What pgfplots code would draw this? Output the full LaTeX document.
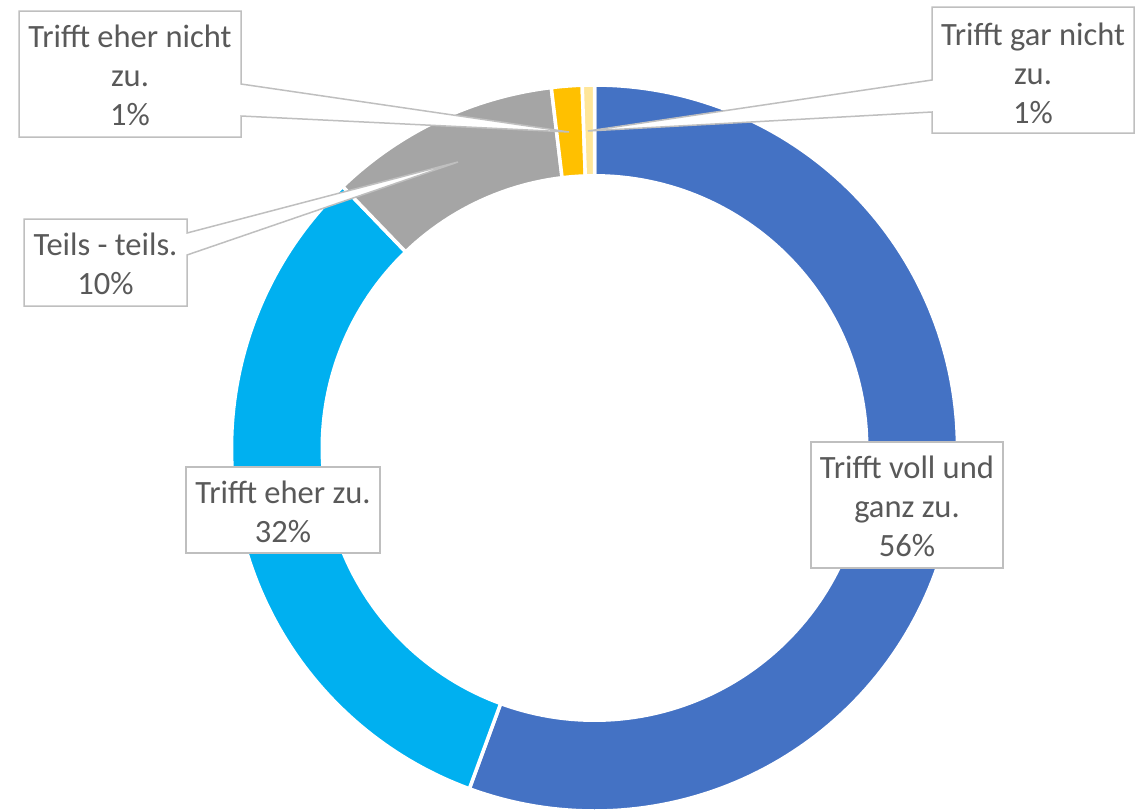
\documentclass[border=0pt]{standalone}
\usepackage{pgfplots}
\pgfplotsset{compat=1.18}
\usepgfplotslibrary{polar}
\usepackage{fontspec}
\setmainfont{Carlito}
\definecolor{cA}{HTML}{4472C4}
\definecolor{cB}{HTML}{00B0F0}
\definecolor{cC}{HTML}{A5A5A5}
\definecolor{cD}{HTML}{FFC000}
\definecolor{cE}{HTML}{FFE699}
\definecolor{txt}{HTML}{595959}
\definecolor{ln}{HTML}{BFBFBF}
% shares (percent), clockwise from 12 o'clock
\def\vA{55.6}% Trifft voll und ganz zu.
\def\vB{32.2}% Trifft eher zu.
\def\vC{10.3}% Teils - teils.
\def\vD{1.36}% Trifft eher nicht zu.
\def\vE{0.55}% Trifft gar nicht zu.
\begin{document}
\begin{tikzpicture}[x=1pt,y=1pt]
\pgfmathsetmacro\aA{90}
\pgfmathsetmacro\aB{\aA-3.6*\vA}
\pgfmathsetmacro\aC{\aB-3.6*\vB}
\pgfmathsetmacro\aD{\aC-3.6*\vC}
\pgfmathsetmacro\aE{\aD-3.6*\vD}
\pgfmathsetmacro\aF{\aE-3.6*\vE}
\useasboundingbox (0pt,0pt) rectangle (1146pt,-809pt);
\begin{polaraxis}[at={(594.5pt,-448pt)}, anchor=center, hide axis, scale only axis,
  width=726pt, height=726pt, xmin=0, xmax=360, ymin=0, ymax=1, clip=false]
\addplot[fill=cA, draw=white, line width=3.5pt, domain=\aB:\aA, samples=150] {1} -- (axis cs:0,0) -- cycle;
\addplot[fill=cB, draw=white, line width=3.5pt, domain=\aC:\aB, samples=100] {1} -- (axis cs:0,0) -- cycle;
\addplot[fill=cC, draw=white, line width=3.5pt, domain=\aD:\aC, samples=40] {1} -- (axis cs:0,0) -- cycle;
\addplot[fill=cD, draw=white, line width=3.5pt, domain=\aE:\aD, samples=10] {1} -- (axis cs:0,0) -- cycle;
\addplot[fill=cE, draw=white, line width=3.5pt, domain=\aF:\aE, samples=10] {1} -- (axis cs:0,0) -- cycle;
\addplot[fill=white, draw=none, domain=0:360, samples=240] {0.7548} -- cycle;
\end{polaraxis}
\tikzset{cl/.style={fill=white, draw=ln, line width=1.5pt, line join=miter},
  lb/.style={align=center, text=txt, inner sep=0pt, font=\fontsize{32.5}{39}\selectfont}}
% callouts
\draw[cl] (19pt,-11pt) -- (241pt,-11pt) -- (241pt,-84pt) -- (569pt,-132pt) -- (241pt,-116pt) -- (241pt,-137pt) -- (19pt,-137pt) -- cycle;
\draw[cl] (932pt,-7pt) -- (1134pt,-7pt) -- (1134pt,-133pt) -- (932pt,-133pt) -- (932pt,-112pt) -- (588pt,-131pt) -- (932pt,-80pt) -- cycle;
\draw[cl] (24pt,-219pt) -- (187pt,-219pt) -- (187pt,-233pt) -- (458pt,-162pt) -- (187pt,-255pt) -- (187pt,-306pt) -- (24pt,-306pt) -- cycle;
\draw[cl] (186pt,-467pt) rectangle (380pt,-553pt);
\draw[cl] (811pt,-442pt) rectangle (1003pt,-568pt);
\node[lb] at (130pt,-75pt) {Trifft eher nicht\\zu.\\1\%};
\node[lb] at (1033pt,-73pt) {Trifft gar nicht\\zu.\\1\%};
\node[lb] at (105.5pt,-264pt) {Teils - teils.\\10\%};
\node[lb] at (283pt,-512pt) {Trifft eher zu.\\32\%};
\node[lb] at (907pt,-506pt) {Trifft voll und\\ganz zu.\\56\%};
\end{tikzpicture}
\end{document}
